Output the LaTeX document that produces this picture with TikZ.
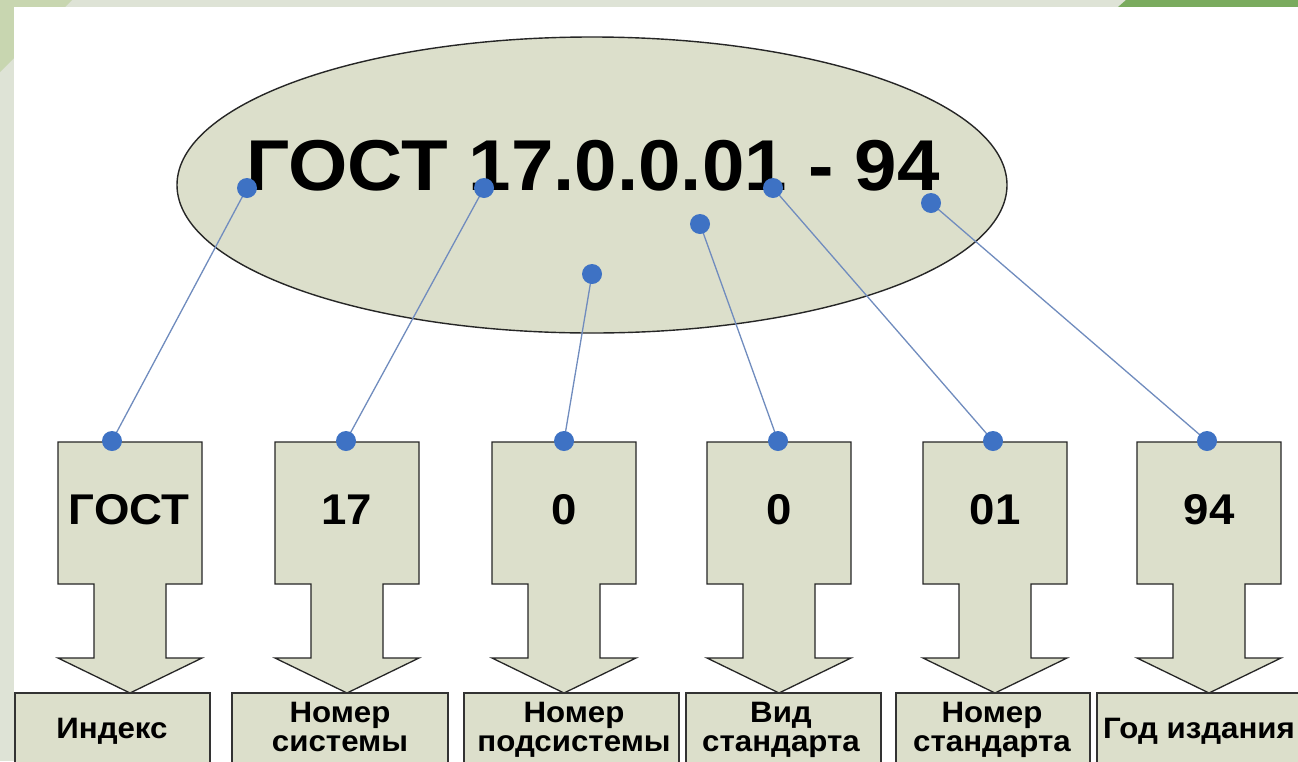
\documentclass[tikz,border=0pt]{standalone}
\usepackage{fontspec}
\setmainfont{Liberation Sans}
\newfontfamily\wideface[FakeStretch=1.06]{Liberation Sans}
\usetikzlibrary{shapes.geometric}
\definecolor{framebg}{RGB}{222,227,214}
\definecolor{framegreen}{RGB}{200,214,176}
\definecolor{topgreen}{RGB}{122,171,94}
\definecolor{shapefill}{RGB}{220,223,203}
\definecolor{dotblue}{RGB}{62,114,196}
\definecolor{linkblue}{RGB}{112,140,190}
\tikzset{
  arrowbox/.style={draw=black!85, line width=1.3pt, fill=shapefill, line join=miter},
  labelbox/.style={draw=black!80, line width=1.3pt, fill=shapefill},
  link/.style={draw=linkblue, line width=1.3pt},
  dot/.style={circle, fill=dotblue, inner sep=0pt, minimum size=20pt},
  bigtxt/.style={font=\wideface\fontsize{43}{50}\selectfont\bfseries, anchor=center},
  labtxt/.style={font=\wideface\fontsize{29.5}{30}\selectfont\bfseries, align=center, anchor=base},
}
\newcommand{\arrowshape}[1]{%
  \path[arrowbox] (#1-72,442) -- (#1+72,442) -- (#1+72,584) -- (#1+36,584) -- (#1+36,658)
    -- (#1+72,658) -- (#1,693) -- (#1-72,658) -- (#1-36,658) -- (#1-36,584) -- (#1-72,584) -- cycle;}
\begin{document}
\begin{tikzpicture}[x=1pt,y=-1pt]
\useasboundingbox (0,0) rectangle (1298,761);
\clip (0,0) rectangle (1298,761);
% frame
\fill[framebg] (0,0) rectangle (1298,761);
\fill[framegreen] (0,0) -- (72,0) -- (0,72) -- cycle;
\fill[topgreen] (1118,7) -- (1126,0) -- (1298,0) -- (1298,7) -- cycle;
\fill[white] (14,7) rectangle (1298,761);

% ellipse with title
\node[ellipse, draw=black!85, line width=1.4pt, fill=shapefill, minimum width=830pt, minimum height=296pt, inner sep=0pt] (oval) at (592,185) {};
\node[font=\wideface\fontsize{72}{80}\selectfont\bfseries, anchor=base] (title) at (593,190) {ГОСТ 17.0.0.01 - 94};

% arrow boxes
\arrowshape{130}
\arrowshape{347}
\arrowshape{564}
\arrowshape{779}
\arrowshape{995}
\arrowshape{1209}
\node[bigtxt] (v1) at (129,510) {ГОСТ};
\node[bigtxt] (v2) at (347,510) {17};
\node[bigtxt] (v3) at (564,510) {0};
\node[bigtxt] (v4) at (779,510) {0};
\node[bigtxt] (v5) at (995,510) {01};
\node[bigtxt] (v6) at (1209,510) {94};

% label boxes
\draw[labelbox] (15,693) rectangle (210,775);
\draw[labelbox] (232,693) rectangle (448,775);
\draw[labelbox] (464,693) rectangle (679,775);
\draw[labelbox] (686,693) rectangle (881,775);
\draw[labelbox] (896,693) rectangle (1090,775);
\draw[labelbox] (1097,693) rectangle (1305,775);
\node[labtxt] (l1) at (112,738) {Индекс};
\node[labtxt] (l2a) at (340,722) {Номер};
\node[labtxt] (l2b) at (340,751) {системы};
\node[labtxt] (l3a) at (574,722) {Номер};
\node[labtxt] (l3b) at (574,751) {подсистемы};
\node[labtxt] (l4a) at (781,722) {Вид};
\node[labtxt] (l4b) at (781,751) {стандарта};
\node[labtxt] (l5a) at (992,722) {Номер};
\node[labtxt] (l5b) at (992,751) {стандарта};
\node[labtxt] (l6) at (1199,738) {Год издания};

% connection points
\coordinate (e1) at (247,188);
\coordinate (e2) at (484,188);
\coordinate (e3) at (592,274);
\coordinate (e4) at (700,224);
\coordinate (e5) at (773,188);
\coordinate (e6) at (931,203);
\coordinate (b1) at (112,441);
\coordinate (b2) at (346,441);
\coordinate (b3) at (564,441);
\coordinate (b4) at (778,441);
\coordinate (b5) at (993,441);
\coordinate (b6) at (1207,441);
\foreach \i in {1,...,6}{\draw[link] (e\i) -- (b\i);}
\foreach \i in {1,...,6}{\node[dot] (de\i) at (e\i) {}; \node[dot] (db\i) at (b\i) {};}
\end{tikzpicture}
\end{document}
